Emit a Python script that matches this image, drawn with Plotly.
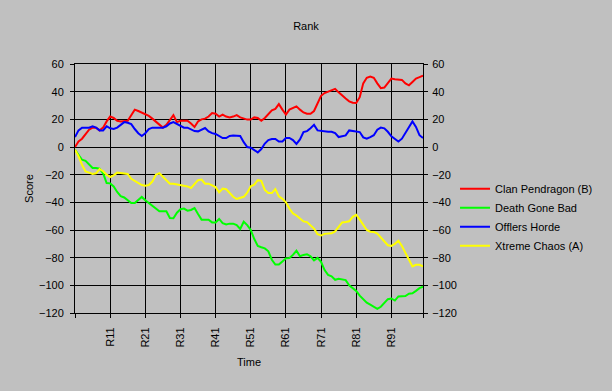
import plotly.graph_objects as go

rounds = list(range(1, 101))

clan_pendragon = [0, 4, 6, 9, 12.5, 14, 14, 12, 14, 18.5,
                  22, 21, 19, 18.5, 19, 19, 23, 27, 26, 25,
                  24, 22.5, 20.5, 18.5, 16, 14, 16, 20, 23, 18,
                  19, 19, 19, 17, 14.5, 18.5, 20, 20.5, 22, 24.5,
                  24, 22, 23.4, 22, 21.4, 22, 23, 21.4, 20.5, 19.8,
                  19.8, 21.4, 21, 19, 21, 24, 26.5, 27.5, 31, 27,
                  23.4, 27, 28, 29.4, 27, 25, 24, 24, 26, 31,
                  37, 39, 40, 41, 42, 39.5, 37, 35, 33, 32,
                  31.8, 36, 46, 50, 51, 50, 46, 42.5, 43, 46,
                  49.5, 49, 48.5, 48.5, 46, 44.6, 47, 49.5, 50.5, 51.6]

death_gone_bad = [-2, -5.5, -9.2, -10, -13, -15.2, -15.2, -15.7, -19, -26,
                  -26.3, -28.5, -32.5, -35.5, -36.5, -38.5, -40.5, -40.5, -38.5, -36.1,
                  -38.5, -40.5, -42.5, -45, -46.5, -46.5, -46.5, -51.3, -51.5, -47.5,
                  -45, -44.5, -46, -45.5, -44.1, -48.5, -52.5, -52.5, -52.5, -54.5,
                  -54.5, -52, -55, -56, -55.4, -55.4, -56.5, -59.3, -54, -56.5,
                  -60, -66.5, -71.5, -72.5, -73.3, -75.4, -81.5, -85, -85, -82.7,
                  -80.5, -80.2, -78, -75, -79, -78, -77.5, -79, -82, -80.2,
                  -83, -89, -92.5, -93.5, -96, -95.2, -95.5, -96.2, -100, -102,
                  -104, -107.5, -110, -112.5, -114, -115.5, -117, -115.5, -112.5, -110,
                  -109.5, -111, -108, -107.7, -107.7, -106, -105.8, -104, -102, -101]

offlers_horde = [7.2, 12, 14, 14, 14, 15, 14, 12, 12, 15,
                 13.5, 13, 14, 16, 18, 17.5, 16.5, 13, 10, 8,
                 10, 13, 14, 14, 14, 14, 15, 17, 18, 16.5,
                 15, 14, 14, 12.5, 11.5, 11.3, 12.5, 13.7, 11.3, 10,
                 9.4, 8, 6.5, 6.5, 8, 8.3, 8.4, 8, 3.5, 0,
                 -0.5, -2, -3.9, -1.5, 2.5, 5, 5.8, 5.8, 4, 4,
                 6.5, 6.5, 5, 2.2, 5.5, 10.8, 11.5, 13.5, 16, 12,
                 11.5, 11, 11, 11, 10, 7.2, 8, 8.4, 12, 11.5,
                 10.8, 10.8, 7, 6, 7.2, 8.5, 12.5, 14, 13.5, 11,
                 7.7, 5.8, 4, 6, 10, 13.7, 18.5, 14.5, 8.5, 6.5]

xtreme_chaos = [-2, -6.7, -12.8, -17.6, -18.5, -19.5, -19, -16, -17.5, -20,
                -21.7, -20.5, -18.5, -19, -19.3, -19.5, -23, -24.5, -26, -27.5,
                -28, -27.5, -25, -20, -19, -21.5, -24, -26.5, -26.5, -27,
                -27.3, -27.5, -28.5, -29.6, -27, -24, -23.5, -26.5, -26.5, -28,
                -29, -32.8, -30, -30.5, -33.5, -36, -37.6, -37, -36, -33,
                -28.4, -27.2, -24, -24.5, -31, -33.3, -33.3, -30.4, -35.7, -37.5,
                -40, -44.5, -48, -49.5, -52, -53.8, -54.3, -56.5, -59, -63,
                -64, -62.8, -62.7, -62.3, -61, -57.5, -54.5, -54.2, -53.7, -50.5,
                -49, -52.5, -56, -60, -61.2, -61.4, -62.5, -65.5, -68.5, -71,
                -71.5, -70, -67.8, -71.5, -76.5, -81, -86.3, -85.2, -85.2, -86.3]

series_names = ["Clan Pendragon (B)", "Death Gone Bad", "Offlers Horde", "Xtreme Chaos (A)"]
series_values = [clan_pendragon, death_gone_bad, offlers_horde, xtreme_chaos]
series_colors = ["#ff0000", "#00ff00", "#0000ff", "#ffff00"]

x_tick_vals = [1, 11, 21, 31, 41, 51, 61, 71, 81, 91, 100]
x_tick_text = ["", "R11", "R21", "R31", "R41", "R51", "R61", "R71", "R81", "R91", ""]
y_tick_vals = [60, 40, 20, 0, -20, -40, -60, -80, -100, -120]

FONT = "Liberation Sans, Arial, sans-serif"
BG = "#c0c0c0"

fig = go.Figure()
for name, vals, col in zip(series_names, series_values, series_colors):
    fig.add_trace(go.Scatter(x=rounds, y=vals, mode="lines", name=name,
                             line=dict(color=col, width=2), hoverinfo="skip"))

# invisible helper trace so the right-hand axis is drawn
fig.add_trace(go.Scatter(x=rounds, y=clan_pendragon, mode="lines", yaxis="y2",
                         line=dict(width=0, color=BG), opacity=0,
                         showlegend=False, hoverinfo="skip"))

axis_common = dict(showline=True, linecolor="black", linewidth=1,
                   showgrid=True, gridcolor="black", gridwidth=1, zeroline=False,
                   ticks="outside", ticklen=4, tickcolor="black",
                   tickfont=dict(family=FONT, size=11, color="black"))

fig.update_layout(
    width=612, height=391,
    paper_bgcolor=BG, plot_bgcolor=BG,
    margin=dict(l=75, r=189, t=64, b=78, autoexpand=False),
    font=dict(family=FONT, size=11, color="black"),
    title=dict(text="Rank", x=0.5, xref="container", xanchor="center",
               y=1 - 26 / 391, yref="container", yanchor="middle",
               font=dict(family=FONT, size=11, color="black")),
    xaxis=dict(range=[1, 100], tickmode="array", tickvals=x_tick_vals, ticktext=x_tick_text,
               tickangle=-90, automargin=False, mirror=True, ticklabelstandoff=5,
               title=dict(text="Time", standoff=11, font=dict(family=FONT, size=11)),
               **axis_common),
    yaxis=dict(range=[-120, 60], tickmode="array", tickvals=y_tick_vals, automargin=False,
               ticklabelstandoff=4,
               title=dict(text="Score", standoff=3, font=dict(family=FONT, size=11)),
               **axis_common),
    yaxis2=dict(range=[-120, 60], tickmode="array", tickvals=y_tick_vals, overlaying="y",
                side="right", automargin=False, ticklabelstandoff=2,
                **{**axis_common, "showgrid": False}),
    legend=dict(x=1.092, xanchor="left", y=0.557, yanchor="top",
                bgcolor="rgba(0,0,0,0)", borderwidth=0,
                font=dict(family=FONT, size=11, color="black")),
    showlegend=True,
)

fig.write_html("out.html", config={"displayModeBar": False},
               post_script="document.body.style.margin='0';document.body.style.background='#c0c0c0';")
